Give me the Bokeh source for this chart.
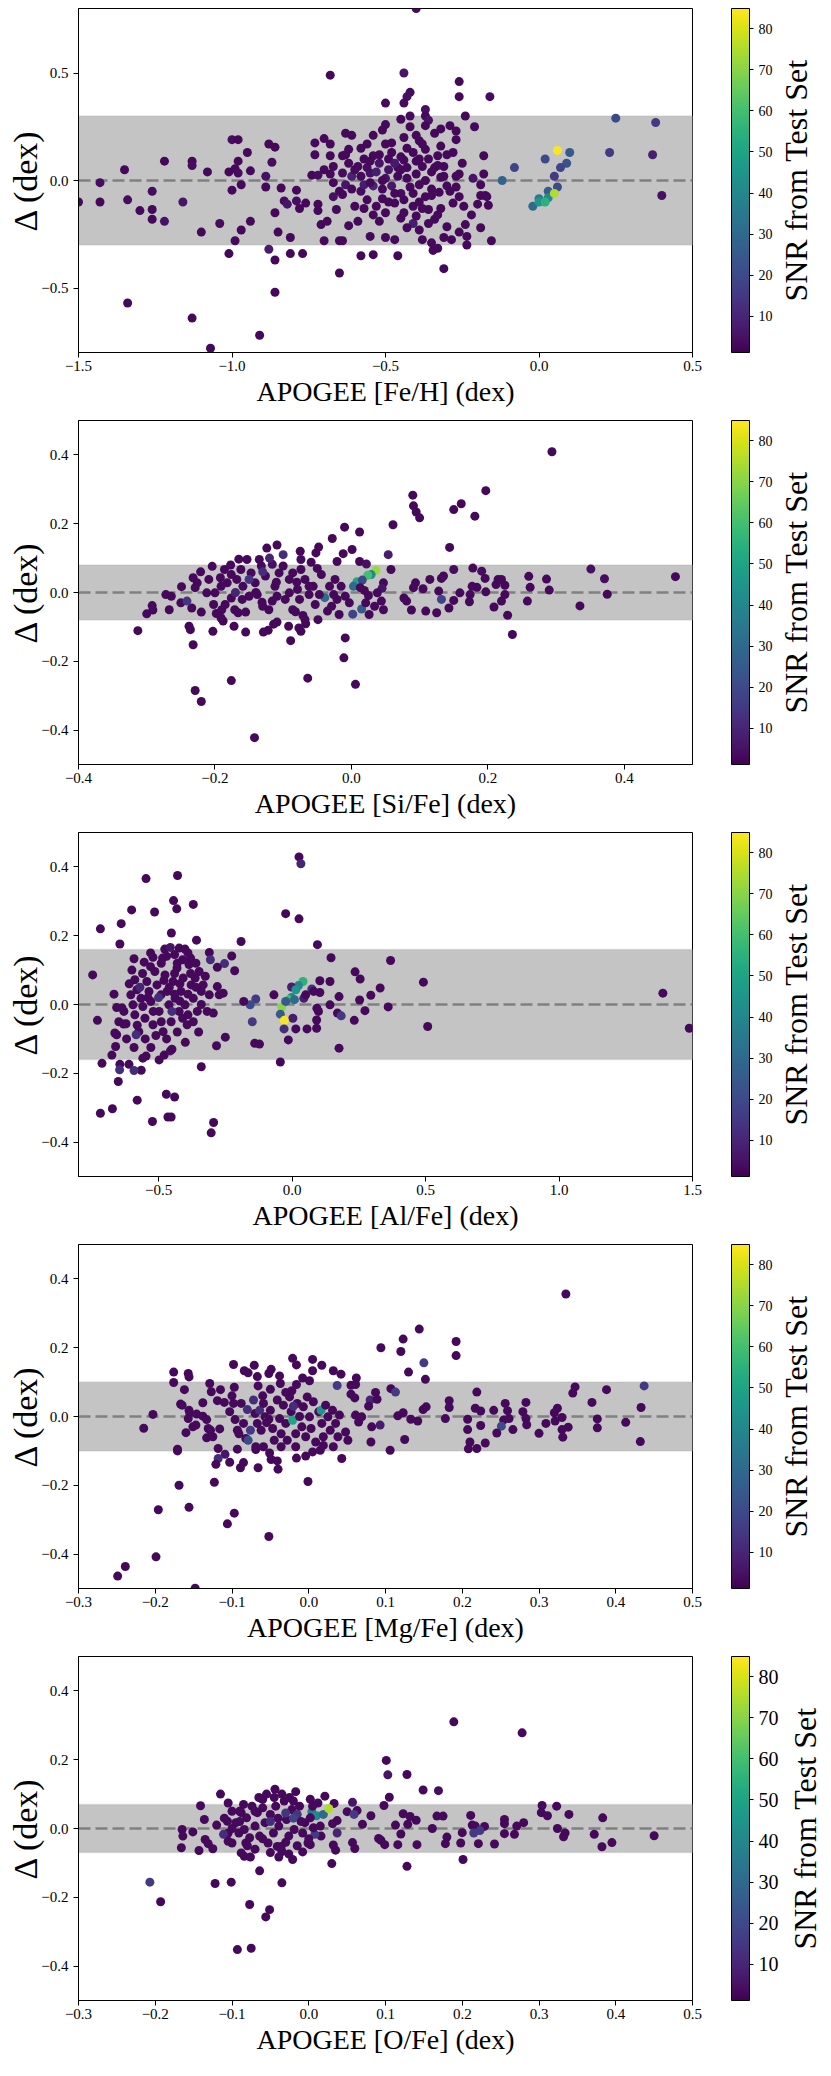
from bokeh.plotting import figure
from bokeh.models import (ColumnDataSource, LinearColorMapper, ColorBar, FixedTicker,
                          BoxAnnotation, Span, Title, CustomJSTickFormatter, Range1d)
from bokeh.palettes import Viridis256
from bokeh.layouts import column, row
from bokeh.embed import file_html
from bokeh.resources import INLINE

SERIF = "Liberation Serif"

# ---------------- Panel 1: [Fe/H] ----------------
FEH_X = [
    -0.40, -0.68, -0.44, -0.26, -0.42, -0.43, -0.50, -0.44, -0.26, -0.16,
    -0.37, -0.37, -0.42, -0.24, -0.36, -0.21, 0.25, 0.38, 0.10, 0.23,
    0.37, 0.02, 0.09, 0.07, -0.08, -0.12, 0.05, 0.06, 0.03, 0.03,
    0.00, -0.02, 0.00, 0.02, 0.05, 0.06, 0.40, -1.50, -1.43, -1.43,
    -1.35, -1.34, -1.34, -1.30, -1.26, -1.26, -1.26, -1.22, -1.22, -1.16,
    -1.13, -1.13, -1.13, -1.10, -1.08, -1.07, -1.04, -1.01, -1.01, -1.00,
    -1.00, -0.98, -0.99, -0.99, -0.98, -0.98, -0.97, -0.97, -0.95, -0.94,
    -0.94, -0.91, -0.89, -0.89, -0.88, -0.87, -0.88, -0.86, -0.86, -0.86,
    -0.86, -0.85, -0.84, -0.83, -0.82, -0.81, -0.81, -0.79, -0.79, -0.78,
    -0.77, -0.76, -0.74, -0.73, -0.73, -0.72, -0.72, -0.72, -0.71, -0.70,
    -0.70, -0.70, -0.69, -0.68, -0.68, -0.67, -0.67, -0.67, -0.66, -0.65,
    -0.65, -0.64, -0.64, -0.64, -0.64, -0.63, -0.63, -0.62, -0.62, -0.61,
    -0.61, -0.60, -0.59, -0.59, -0.58, -0.58, -0.57, -0.57, -0.56, -0.56,
    -0.55, -0.55, -0.54, -0.54, -0.54, -0.54, -0.52, -0.52, -0.51, -0.51,
    -0.50, -0.50, -0.50, -0.50, -0.49, -0.48, -0.48, -0.47, -0.47, -0.46,
    -0.46, -0.45, -0.45, -0.45, -0.44, -0.44, -0.43, -0.43, -0.42, -0.41,
    -0.41, -0.40, -0.40, -0.39, -0.39, -0.39, -0.38, -0.38, -0.37, -0.37,
    -0.37, -0.36, -0.35, -0.35, -0.35, -0.345, -0.34, -0.34, -0.33, -0.33,
    -0.325, -0.32, -0.32, -0.32, -0.31, -0.31, -0.31, -0.30, -0.30, -0.29,
    -0.285, -0.28, -0.28, -0.27, -0.27, -0.27, -0.26, -0.26, -0.26, -0.25,
    -0.245, -0.24, -0.235, -0.235, -0.22, -0.215, -0.20, -0.19, -0.19, -0.19,
    -0.18, -0.18, -0.175, -0.17, -0.165, -0.155, -0.60, -0.58, -0.56, -0.55,
    -0.53, -0.52, -0.51, -0.49, -0.48, -0.47, -0.46, -0.45, -0.44, -0.43,
    -0.42, -0.41, -0.40, -0.39, -0.38, -0.37, -0.36, -0.35, -0.34, -0.33,
    -0.31, -0.30, -0.29, -0.57, -0.62, -0.65, -0.53, -0.50, -0.44, -0.40,
    -0.36, -0.58, -0.54, -0.47, -0.41, -0.32, -0.68, -0.61, -0.55, -0.49,
    -0.45, -0.39, -0.33, -0.27, -0.63, -0.51, -0.43, -0.38]
FEH_D = [
    0.80, 0.49, 0.50, 0.46, 0.41, 0.39, 0.36, 0.36, 0.39, 0.39,
    0.33, 0.30, 0.30, 0.30, 0.28, 0.25, 0.29, 0.27, 0.13, 0.13,
    0.12, 0.10, 0.08, 0.06, 0.06, 0.00, 0.02, -0.03, -0.05, -0.08,
    -0.085, -0.12, -0.10, -0.10, -0.06, 0.14, -0.07, -0.10, -0.01, -0.10,
    0.05, -0.09, -0.57, -0.14, -0.05, -0.135, -0.18, 0.09, -0.19, -0.10,
    -0.64, 0.09, 0.07, -0.24, 0.04, -0.78, -0.20, -0.34, 0.04, -0.045,
    0.19, 0.19, -0.28, 0.055, 0.035, 0.09, -0.02, -0.23, 0.13, 0.045,
    -0.19, -0.72, 0.02, -0.03, 0.17, 0.085, -0.32, -0.37, -0.52, 0.155,
    -0.15, -0.24, -0.035, -0.095, -0.11, -0.265, -0.34, -0.045, -0.095, -0.13,
    -0.34, -0.105, 0.025, 0.12, 0.175, -0.11, 0.025, -0.14, -0.205, -0.28,
    0.195, 0.05, -0.19, 0.17, 0.115, -0.075, -0.01, 0.065, -0.135, -0.43,
    -0.28, 0.035, 0.115, -0.065, -0.28, 0.22, -0.02, -0.21, 0.145, 0.21,
    0.02, -0.12, -0.19, 0.065, -0.35, -0.05, 0.10, -0.02, 0.17, -0.09,
    -0.26, 0.035, 0.115, -0.16, -0.345, -0.025, -0.19, 0.08, 0.235, -0.085,
    -0.265, 0.01, 0.26, -0.15, 0.10, 0.175, -0.025, -0.275, -0.105, 0.06,
    -0.35, 0.285, -0.175, -0.06, 0.20, 0.095, 0.01, 0.15, 0.25, -0.12,
    -0.20, 0.09, -0.165, -0.02, -0.23, 0.185, -0.275, 0.065, 0.255, -0.075,
    0.145, -0.135, 0.04, -0.29, -0.04, -0.325, 0.22, -0.18, -0.315, 0.115,
    -0.055, 0.015, 0.24, -0.13, -0.265, -0.41, 0.065, -0.215, -0.025, 0.255,
    -0.275, 0.13, -0.105, 0.02, 0.19, 0.23, -0.24, -0.075, 0.03, 0.08,
    -0.12, -0.205, -0.30, -0.26, -0.16, 0.01, -0.11, -0.22, -0.02, -0.07,
    0.115, 0.03, -0.07, -0.075, -0.115, -0.28, 0.05, 0.02, 0.06, -0.01,
    0.04, 0.12, -0.04, 0.05, 0.13, -0.06, 0.02, 0.11, -0.09, 0.06,
    -0.03, 0.13, 0.03, -0.10, 0.17, 0.00, 0.10, -0.07, 0.06, -0.16,
    0.02, 0.12, -0.05, -0.13, 0.08, -0.05, -0.12, 0.17, -0.15, 0.21,
    -0.20, 0.15, 0.21, 0.08, -0.06, 0.16, 0.03, -0.04, 0.09, -0.10,
    0.05, 0.10, 0.07, -0.03, 0.12, 0.00, -0.22, -0.13]
FEH_SNR = [
    4, 3, 6, 3, 4, 5, 3, 4, 3, 4,
    5, 3, 4, 3, 6, 3, 20, 15, 25, 15,
    8, 20, 22, 18, 18, 28, 15, 20, 25, 40,
    35, 30, 45, 55, 75, 84, 5, 3, 4, 3,
    3, 4, 3, 3, 4, 3, 3, 3, 5, 6,
    3, 3, 4, 3, 3, 3, 4, 3, 3, 3,
    4, 3, 3, 3, 4, 3, 3, 3, 3, 3,
    3, 3, 5, 3, 3, 4, 8, 3, 3, 3,
    3, 3, 3, 4, 6, 3, 3, 3, 4, 3,
    3, 3, 3, 3, 3, 3, 4, 3, 3, 3,
    3, 3, 3, 3, 3, 5, 3, 3, 3, 3,
    3, 4, 3, 3, 3, 3, 6, 3, 3, 3,
    9, 3, 3, 3, 3, 4, 3, 8, 3, 3,
    3, 5, 3, 3, 3, 10, 3, 6, 3, 3,
    3, 5, 3, 3, 3, 3, 7, 3, 3, 3,
    3, 3, 3, 4, 3, 3, 3, 3, 3, 3,
    8, 3, 3, 3, 3, 3, 3, 3, 3, 3,
    3, 3, 3, 3, 3, 3, 3, 3, 3, 3,
    3, 3, 3, 3, 3, 3, 3, 3, 3, 3,
    3, 3, 3, 3, 3, 3, 3, 3, 3, 3,
    3, 3, 3, 3, 3, 6, 3, 3, 3, 3,
    3, 3, 3, 3, 3, 3, 3, 3, 4, 3,
    8, 3, 3, 6, 3, 3, 3, 3, 3, 3,
    3, 3, 3, 3, 3, 3, 3, 3, 3, 3,
    3, 3, 3, 3, 3, 3, 3, 3, 3, 3,
    3, 3, 3, 7, 3, 3, 3, 3, 3, 3,
    3, 3, 3, 3, 3, 3, 3, 3]

# ---------------- Panel 2: [Si/Fe] ----------------
SI_X = [
    0.294, 0.197, 0.090, 0.161, 0.091, 0.095, 0.150, 0.181, 0.100, 0.061,
    -0.010, 0.012, -0.028, -0.109, -0.124, -0.048, -0.075, 0.144, 0.001, -0.012,
    0.054, -0.165, -0.052, -0.074, -0.059, -0.021, 0.012, 0.022, -0.204, 0.058,
    0.150, 0.178, 0.191, 0.351, 0.260, 0.286, 0.371, 0.475, 0.262, 0.290,
    0.375, 0.335, 0.258, 0.229, 0.236, 0.209, 0.220, 0.225, 0.225, 0.212,
    0.215, 0.220, 0.196, 0.197, 0.184, 0.177, 0.174, 0.173, 0.159, 0.150,
    0.143, 0.132, 0.125, 0.128, 0.132, 0.135, 0.115, 0.109, 0.105, 0.094,
    0.091, 0.088, 0.081, 0.077, 0.047, 0.045, 0.044, 0.047, 0.026, 0.034,
    0.025, 0.036, 0.029, 0.024, 0.008, 0.003, 0.016, 0.016, 0.015, 0.002,
    -0.039, -0.009, -0.011, 0.006, -0.064, -0.089, -0.074, -0.077, -0.067, -0.049,
    -0.092, -0.109, -0.114, -0.122, -0.129, -0.155, -0.172, -0.188, -0.203, -0.238,
    -0.236, -0.232, -0.176, -0.229, -0.220, -0.142, -0.313, -0.300, -0.291, -0.292,
    -0.267, -0.272, -0.264, -0.250, -0.249, -0.234, -0.232, -0.221, -0.220, -0.202,
    -0.200, -0.198, -0.191, -0.186, -0.177, -0.171, -0.166, -0.155, -0.153, -0.135,
    -0.131, -0.121, -0.116, -0.086, -0.082, -0.071, -0.068, -0.076, -0.053, -0.035,
    -0.029, -0.021, -0.018, -0.015, -0.024, -0.032, -0.044, -0.056, -0.062, -0.068,
    -0.074, -0.086, -0.091, -0.100, -0.106, -0.112, -0.116, -0.126, -0.132, -0.141,
    -0.147, -0.150, -0.159, -0.162, -0.168, -0.176, -0.182, -0.192, -0.191, -0.209,
    -0.212, -0.226, -0.229, -0.241, -0.150, -0.160, -0.176, -0.185, -0.138, -0.109,
    -0.097, -0.091, -0.079, -0.062, -0.047, -0.026, -0.009, -0.003, 0.021, 0.038,
    -0.12, -0.10, -0.13, -0.11, -0.14, -0.17, -0.19, -0.13, -0.08, -0.05,
    0.019, 0.013]
SI_D = [
    0.409, 0.296, 0.283, 0.258, 0.252, 0.234, 0.241, 0.222, 0.217, 0.197,
    0.190, 0.176, 0.157, 0.138, 0.129, 0.132, 0.120, 0.131, 0.125, 0.113,
    0.110, 0.097, 0.115, 0.096, 0.088, 0.090, 0.090, 0.083, 0.076, 0.067,
    0.067, 0.071, 0.062, 0.068, 0.047, 0.039, 0.040, 0.046, 0.015, 0.007,
    -0.005, -0.039, -0.025, -0.066, -0.122, -0.042, -0.025, -0.006, 0.021, 0.023,
    0.038, 0.038, 0.041, 0.002, 0.015, 0.018, -0.006, -0.027, -0.001, -0.023,
    -0.045, -0.020, -0.059, 0.004, 0.041, 0.048, 0.038, -0.054, 0.011, 0.028,
    0.014, -0.051, -0.025, -0.016, 0.028, 0.012, -0.025, -0.050, -0.064, -0.040,
    -0.009, 0.064, 0.052, 0.050, 0.031, 0.018, 0.011, 0.036, -0.048, -0.063,
    -0.015, -0.132, -0.190, -0.267, -0.249, -0.140, -0.113, -0.103, -0.091, -0.079,
    -0.098, -0.086, -0.092, -0.110, -0.115, -0.115, -0.098, -0.083, -0.113, -0.098,
    -0.108, -0.152, -0.256, -0.285, -0.317, -0.422, -0.111, -0.062, -0.051, -0.038,
    -0.050, -0.006, -0.011, -0.030, 0.017, -0.045, 0.043, 0.060, -0.057, -0.035,
    -0.001, -0.061, -0.074, 0.067, 0.080, -0.050, -0.059, -0.057, 0.096, 0.096,
    -0.028, -0.050, -0.025, -0.050, -0.056, -0.067, -0.079, -0.020, -0.035, -0.054,
    -0.040, -0.020, -0.064, 0.018, 0.038, 0.018, 0.052, 0.018, 0.018, 0.038,
    0.067, 0.057, 0.038, 0.077, 0.057, 0.018, 0.082, 0.048, 0.077, 0.028,
    0.057, 0.038, 0.018, 0.067, 0.038, 0.052, 0.028, 0.043, 0.018, 0.038,
    -0.001, 0.028, 0.014, -0.025, -0.011, -0.020, -0.016, -0.035, -0.006, -0.011,
    -0.020, -0.001, 0.009, -0.006, -0.006, -0.006, -0.011, -0.030, -0.030, -0.001,
    0.10, 0.11, 0.06, 0.03, 0.00, 0.00, -0.05, -0.04, 0.03, 0.07,
    0.006, 0.014]
SI_SNR = [
    3, 3, 3, 3, 3, 3, 3, 3, 3, 3,
    3, 3, 3, 3, 3, 3, 3, 3, 3, 3,
    8, 3, 3, 4, 3, 3, 3, 5, 3, 3,
    4, 3, 4, 5, 3, 3, 4, 3, 3, 3,
    3, 3, 3, 3, 3, 3, 3, 3, 3, 3,
    3, 3, 3, 3, 3, 3, 3, 3, 3, 3,
    3, 18, 3, 3, 3, 3, 3, 3, 3, 3,
    3, 3, 3, 3, 3, 6, 3, 3, 3, 3,
    3, 72, 40, 60, 50, 30, 84, 20, 25, 18,
    30, 3, 3, 3, 3, 3, 3, 3, 3, 3,
    3, 3, 3, 3, 3, 3, 3, 3, 3, 3,
    3, 3, 3, 3, 3, 3, 3, 3, 3, 3,
    3, 3, 3, 3, 3, 3, 3, 3, 3, 3,
    3, 3, 3, 3, 3, 3, 3, 3, 3, 3,
    3, 3, 3, 3, 3, 3, 3, 3, 3, 3,
    3, 3, 3, 3, 3, 3, 3, 3, 3, 3,
    3, 3, 3, 3, 3, 3, 5, 3, 3, 3,
    3, 14, 3, 3, 3, 3, 3, 3, 3, 3,
    3, 3, 3, 14, 3, 3, 3, 3, 3, 3,
    3, 3, 3, 3, 3, 3, 3, 3, 3, 3,
    10, 12, 12, 3, 3, 10, 3, 3, 3, 3,
    3, 3]

# ---------------- Panel 3: [Al/Fe] ----------------
AL_X = [
    0.026, 0.033, -0.547, -0.429, -0.444, -0.370, -0.432, -0.601, -0.515, -0.024,
    0.026, -0.640, -0.718, -0.452, -0.358, -0.191, -0.645, 0.095, -0.477, -0.456,
    -0.423, -0.401, -0.310, -0.226, 0.146, 0.369, -0.592, -0.521, -0.554, -0.485,
    -0.440, -0.380, -0.306, -0.253, -0.280, -0.215, -0.747, 0.236, 0.255, 0.104,
    0.142, 0.492, 0.041, 0.024, -0.002, 0.014, 0.074, 0.104, 0.330, 0.295,
    0.176, 0.253, 0.273, 0.360, 1.389, -0.068, -0.136, -0.157, -0.181, -0.002,
    -0.012, 0.009, -0.039, -0.024, 0.044, 0.051, 0.081, 0.093, 0.099, 0.142,
    0.170, 0.184, 0.092, 0.003, -0.044, -0.029, -0.149, -0.030, 0.014, 0.056,
    0.092, 0.233, 0.508, 1.488, -0.014, -0.140, -0.122, 0.176, -0.044, -0.250,
    -0.283, -0.340, -0.456, -0.479, -0.498, -0.529, -0.547, -0.559, -0.592, -0.611,
    -0.565, -0.592, -0.645, -0.646, -0.712, -0.675, -0.661, -0.651, -0.471, -0.440,
    -0.580, -0.673, -0.718, -0.523, -0.465, -0.453, -0.294, -0.303, -0.729, -0.667,
    -0.657, -0.649, -0.637, -0.664, -0.657, -0.631, -0.622, -0.604, -0.596, -0.589,
    -0.581, -0.589, -0.574, -0.584, -0.566, -0.559, -0.551, -0.544, -0.536, -0.529,
    -0.521, -0.514, -0.506, -0.498, -0.491, -0.483, -0.476, -0.468, -0.461, -0.453,
    -0.446, -0.438, -0.431, -0.423, -0.416, -0.408, -0.401, -0.393, -0.386, -0.378,
    -0.370, -0.363, -0.355, -0.348, -0.340, -0.333, -0.325, -0.310, -0.318, -0.295,
    -0.280, -0.258, -0.273, -0.60, -0.57, -0.55, -0.53, -0.51, -0.50, -0.49,
    -0.47, -0.46, -0.45, -0.44, -0.43, -0.42, -0.41, -0.40, -0.39, -0.38,
    -0.37, -0.36, -0.35, -0.52, -0.48, -0.45, -0.42, -0.39, -0.56, -0.62,
    -0.58, -0.54, -0.49, -0.43, -0.47, -0.41, -0.53, -0.44, -0.36, -0.61,
    -0.63, -0.39, -0.34]
AL_D = [
    0.429, 0.409, 0.366, 0.375, 0.302, 0.291, 0.278, 0.275, 0.269, 0.264,
    0.249, 0.235, 0.220, 0.208, 0.187, 0.183, 0.176, 0.174, 0.161, 0.166,
    0.164, 0.161, 0.151, 0.141, 0.136, 0.128, 0.133, 0.137, 0.123, 0.135,
    0.145, 0.135, 0.130, 0.119, 0.108, 0.098, 0.086, 0.095, 0.074, 0.069,
    0.067, 0.065, 0.067, 0.055, 0.051, 0.043, 0.045, 0.035, 0.048, 0.027,
    0.023, 0.013, -0.018, -0.007, 0.033, 0.028, 0.016, -0.001, 0.009, 0.020,
    0.014, 0.014, -0.008, 0.009, 0.018, 0.028, 0.038, -0.011, -0.020, -0.001,
    -0.025, -0.033, -0.045, -0.040, -0.028, -0.046, -0.050, -0.071, -0.071, -0.071,
    -0.069, -0.046, -0.064, -0.069, -0.103, -0.113, -0.115, -0.127, -0.167, -0.095,
    -0.120, -0.181, -0.135, -0.147, -0.161, -0.125, -0.150, -0.156, -0.125, -0.174,
    -0.191, -0.192, -0.174, -0.190, -0.171, -0.147, -0.122, -0.224, -0.261, -0.269,
    -0.278, -0.303, -0.316, -0.340, -0.327, -0.327, -0.343, -0.373, -0.046, 0.030,
    -0.009, -0.050, -0.010, -0.083, -0.088, -0.057, -0.056, 0.028, -0.001, 0.072,
    0.043, -0.030, -0.079, -0.088, 0.018, -0.006, -0.040, 0.067, 0.038, 0.009,
    -0.059, 0.096, 0.057, -0.020, 0.028, -0.079, 0.086, 0.038, -0.001, -0.050,
    0.067, 0.018, 0.106, -0.020, 0.038, 0.077, -0.001, -0.059, 0.116, 0.057,
    0.018, 0.077, -0.020, 0.096, 0.038, 0.057, 0.082, 0.028, -0.020, -0.025,
    0.052, 0.033, 0.028, 0.10, 0.05, -0.10, 0.11, -0.09, 0.02, 0.12,
    -0.10, 0.05, -0.02, 0.09, -0.08, 0.01, 0.13, -0.11, 0.03, 0.09,
    -0.05, 0.12, -0.08, -0.02, 0.07, -0.13, 0.06, -0.03, 0.09, -0.10,
    -0.06, 0.02, -0.05, 0.12, 0.14, -0.04, 0.15, 0.03, 0.05, 0.06,
    -0.02, 0.15, 0.00]
AL_SNR = [
    3, 10, 3, 3, 3, 3, 3, 3, 3, 3,
    3, 3, 3, 3, 3, 3, 3, 3, 3, 6,
    3, 3, 3, 3, 3, 3, 3, 3, 3, 3,
    3, 3, 12, 12, 3, 3, 3, 3, 3, 3,
    3, 3, 55, 40, 8, 45, 12, 3, 3, 3,
    3, 3, 3, 3, 3, 3, 15, 20, 3, 40,
    60, 30, 70, 25, 8, 3, 3, 3, 3, 3,
    3, 15, 3, 8, 25, 84, 15, 12, 3, 3,
    3, 3, 3, 3, 3, 3, 3, 3, 3, 3,
    3, 3, 6, 3, 3, 3, 3, 3, 3, 3,
    3, 12, 3, 12, 3, 3, 3, 3, 3, 3,
    3, 3, 3, 3, 3, 3, 3, 3, 3, 3,
    3, 3, 3, 3, 3, 3, 3, 3, 3, 3,
    3, 3, 3, 12, 3, 3, 3, 3, 3, 3,
    3, 3, 3, 3, 3, 3, 3, 3, 3, 3,
    3, 3, 3, 3, 3, 3, 3, 3, 3, 3,
    3, 3, 3, 3, 3, 3, 3, 3, 3, 3,
    3, 3, 3, 3, 10, 3, 3, 3, 12, 3,
    3, 3, 12, 3, 3, 3, 3, 3, 3, 3,
    3, 3, 3, 3, 3, 3, 3, 3, 3, 3,
    3, 3, 3, 3, 3, 3, 3, 3, 3, 3,
    3, 3, 3]

# ---------------- Panel 4: [Mg/Fe] ----------------
MG_X = [
    0.335, 0.144, 0.123, 0.192, 0.094, 0.120, 0.192, 0.150, 0.130, 0.152,
    -0.021, 0.005, -0.098, -0.071, -0.016, 0.017, -0.049, -0.052, -0.084, -0.079,
    0.005, 0.032, 0.042, -0.067, -0.038, -0.176, -0.157, -0.156, -0.176, 0.062,
    -0.008, 0.001, -0.129, -0.162, -0.127, -0.115, -0.097, -0.066, -0.050, -0.037,
    -0.022, -0.016, 0.037, 0.055, 0.061, 0.087, 0.107, 0.113, 0.055, 0.060,
    0.080, 0.089, 0.078, 0.219, 0.347, 0.344, 0.437, 0.388, 0.369, 0.283,
    0.256, 0.183, 0.183, 0.217, 0.224, 0.241, 0.259, 0.279, 0.320, 0.324,
    0.330, 0.433, 0.153, 0.149, 0.123, 0.116, 0.133, 0.142, 0.178, 0.207,
    0.254, 0.261, 0.283, 0.284, 0.309, 0.321, 0.376, 0.376, 0.413, 0.338,
    0.330, 0.331, 0.300, 0.266, 0.251, 0.245, 0.224, 0.207, 0.210, 0.230,
    0.208, 0.219, 0.432, 0.082, 0.093, 0.081, 0.106, 0.125, 0.043, -0.001,
    -0.016, -0.004, 0.005, 0.015, -0.052, -0.051, -0.049, -0.040, -0.041, -0.066,
    -0.069, -0.089, -0.085, -0.103, -0.109, -0.118, -0.121, -0.118, -0.093, -0.123,
    -0.097, -0.106, -0.169, -0.156, -0.196, -0.199, -0.239, -0.249, -0.148, -0.171,
    -0.171, -0.215, -0.203, -0.160, -0.167, -0.165, -0.156, -0.155, -0.157, -0.151,
    -0.147, -0.146, -0.138, -0.138, -0.133, -0.131, -0.133, -0.125, -0.128, -0.119,
    -0.116, -0.110, -0.103, -0.098, -0.096, -0.093, -0.091, -0.088, -0.085, -0.082,
    -0.079, -0.076, -0.072, -0.070, -0.067, -0.064, -0.062, -0.059, -0.057, -0.053,
    -0.050, -0.047, -0.045, -0.041, -0.038, -0.036, -0.033, -0.030, -0.028, -0.025,
    -0.023, -0.021, -0.017, -0.015, -0.012, -0.009, -0.007, -0.004, -0.002, 0.001,
    0.003, 0.006, 0.009, 0.013, 0.016, 0.017, 0.019, 0.022, 0.025, 0.028,
    0.031, 0.035, 0.038, 0.040, 0.048, 0.051, 0.061, 0.065, 0.069, 0.032,
    0.019, -0.017, -0.036, -0.059, -0.069, -0.08, -0.06, -0.03, -0.10, -0.02,
    -0.052, -0.055]
MG_D = [
    0.356, 0.254, 0.225, 0.218, 0.200, 0.189, 0.177, 0.156, 0.129, 0.108,
    0.169, 0.166, 0.151, 0.149, 0.150, 0.149, 0.137, 0.125, 0.133, 0.127,
    0.133, 0.133, 0.123, 0.116, 0.118, 0.129, 0.125, 0.115, 0.099, 0.112,
    0.112, 0.104, 0.096, 0.078, 0.072, 0.078, 0.085, 0.089, 0.079, 0.096,
    0.075, 0.093, 0.090, 0.091, 0.093, 0.070, 0.081, 0.071, 0.065, 0.054,
    0.048, 0.050, 0.030, 0.071, 0.086, 0.068, 0.089, 0.078, 0.041, 0.041,
    0.038, 0.046, 0.026, 0.024, 0.016, 0.018, 0.017, 0.014, 0.011, 0.024,
    -0.003, 0.026, 0.028, 0.020, 0.011, 0.002, -0.008, -0.013, -0.006, -0.008,
    -0.010, -0.006, -0.006, -0.024, -0.020, -0.013, -0.007, -0.033, -0.017, -0.031,
    -0.038, -0.060, -0.049, -0.038, -0.028, -0.048, -0.026, -0.038, -0.074, -0.077,
    -0.094, -0.093, -0.073, -0.030, -0.025, -0.074, -0.098, -0.067, -0.122, -0.189,
    -0.121, -0.115, -0.103, -0.098, -0.349, -0.106, -0.125, -0.153, -0.129, -0.149,
    -0.096, -0.149, -0.134, -0.133, -0.110, -0.122, -0.139, -0.093, -0.095, -0.191,
    -0.281, -0.312, -0.200, -0.264, -0.271, -0.408, -0.436, -0.464, -0.499, -0.095,
    -0.100, -0.034, 0.006, -0.047, 0.036, 0.033, 0.018, 0.010, -0.006, -0.030,
    -0.025, 0.007, 0.040, 0.001, -0.009, -0.035, -0.062, -0.059, -0.040, 0.046,
    -0.036, 0.041, 0.014, 0.038, -0.009, -0.040, -0.050, 0.038, -0.020, -0.064,
    -0.069, -0.040, 0.048, 0.009, -0.020, 0.018, -0.040, 0.038, -0.001, -0.013,
    0.018, -0.035, -0.069, 0.048, -0.006, -0.050, 0.033, -0.020, -0.069, 0.057,
    0.014, -0.011, -0.050, 0.038, 0.000, -0.030, 0.028, -0.059, 0.057, -0.001,
    -0.035, 0.043, -0.074, 0.014, 0.018, -0.020, -0.059, 0.033, -0.001, -0.040,
    0.018, -0.020, -0.059, 0.004, -0.045, -0.069, 0.004, -0.016, -0.001, -0.088,
    -0.084, -0.088, -0.088, -0.088, -0.088, 0.02, 0.06, 0.07, 0.06, 0.03,
    -0.008, -0.018]
MG_SNR = [
    3, 3, 3, 3, 3, 3, 3, 15, 3, 3,
    3, 3, 3, 3, 3, 3, 3, 3, 3, 3,
    3, 3, 3, 3, 3, 3, 3, 3, 3, 3,
    3, 3, 3, 3, 3, 3, 3, 3, 3, 3,
    3, 3, 15, 3, 3, 3, 3, 15, 3, 3,
    10, 3, 3, 3, 3, 3, 15, 3, 3, 3,
    3, 3, 3, 3, 3, 3, 3, 3, 3, 3,
    3, 3, 3, 3, 3, 3, 3, 3, 3, 3,
    3, 3, 3, 3, 3, 3, 3, 3, 3, 3,
    3, 3, 3, 3, 20, 3, 3, 3, 3, 3,
    3, 3, 3, 3, 8, 3, 3, 3, 3, 3,
    3, 3, 3, 3, 3, 3, 3, 3, 3, 3,
    3, 3, 3, 3, 6, 12, 3, 3, 3, 3,
    3, 3, 3, 3, 3, 3, 3, 3, 3, 3,
    3, 3, 3, 3, 3, 3, 3, 3, 3, 3,
    3, 3, 3, 3, 3, 3, 3, 3, 3, 3,
    3, 3, 3, 3, 3, 3, 3, 3, 3, 3,
    20, 15, 12, 3, 3, 12, 3, 3, 3, 84,
    3, 3, 3, 3, 3, 3, 3, 3, 3, 3,
    3, 50, 3, 3, 3, 3, 3, 3, 3, 3,
    3, 3, 3, 3, 45, 3, 3, 3, 3, 3,
    3, 3, 3, 3, 3, 3, 3, 3, 3, 3,
    3, 3, 3, 3, 3, 12, 3, 3, 3, 12,
    3, 3]

# ---------------- Panel 5: [O/Fe] ----------------
O_X = [
    0.189, 0.278, 0.101, 0.103, 0.128, 0.149, 0.169, 0.105, -0.115, -0.044,
    -0.017, -0.062, 0.021, -0.105, -0.141, 0.002, 0.012, 0.033, 0.057, 0.098,
    0.050, 0.063, 0.081, 0.070, 0.059, 0.123, 0.132, 0.140, 0.113, 0.129,
    0.167, 0.175, 0.161, 0.211, 0.213, 0.217, 0.229, 0.200, 0.215, 0.223,
    0.255, 0.255, 0.271, 0.280, 0.304, 0.323, 0.303, 0.311, 0.339, 0.324,
    0.334, 0.332, 0.383, 0.372, 0.450, 0.395, 0.382, 0.255, 0.268, 0.242,
    0.221, 0.198, 0.180, 0.178, 0.201, 0.141, 0.120, 0.116, 0.128, 0.099,
    0.094, 0.091, 0.030, 0.035, 0.057, 0.060, 0.032, 0.037, 0.031, 0.037,
    0.004, 0.010, 0.019, 0.015, 0.016, 0.008, 0.002, -0.008, -0.021, -0.026,
    -0.035, -0.039, -0.041, -0.064, -0.084, -0.076, -0.088, -0.035, -0.077, -0.051,
    -0.056, -0.075, -0.093, -0.101, -0.122, -0.207, -0.193, -0.165, -0.164, -0.166,
    -0.151, -0.143, -0.135, -0.131, -0.125, -0.136, -0.106, -0.105, -0.111, -0.105,
    -0.100, -0.095, -0.091, -0.088, -0.084, -0.082, -0.081, -0.077, -0.074, -0.070,
    -0.067, -0.064, -0.060, -0.057, -0.053, -0.050, -0.046, -0.043, -0.039, -0.036,
    -0.032, -0.029, -0.026, -0.022, -0.019, -0.015, -0.012, -0.008, -0.005, -0.001,
    0.002, 0.006, -0.03, -0.02, -0.05, -0.06, -0.07, -0.09, -0.10, -0.045,
    -0.09, -0.08, -0.07, -0.06, -0.05, -0.04, -0.03, -0.02, -0.01, 0.00,
    -0.11, -0.12, -0.10, -0.085, -0.065, -0.055, -0.035, -0.025, -0.015, 0.005,
    0.026]
O_D = [
    0.310, 0.278, 0.198, 0.156, 0.157, 0.112, 0.110, 0.091, 0.100, 0.114,
    0.107, 0.087, 0.094, 0.074, 0.066, 0.085, 0.074, 0.073, 0.076, 0.067,
    0.049, 0.052, 0.037, 0.012, 0.041, 0.043, 0.035, 0.024, 0.010, 0.012,
    0.036, 0.036, 0.000, 0.038, 0.010, 0.007, 0.006, -0.012, -0.013, -0.006,
    0.026, 0.014, 0.007, 0.017, 0.067, 0.065, 0.046, 0.037, 0.041, 0.000,
    -0.013, -0.024, 0.031, -0.017, -0.021, -0.041, -0.053, -0.015, -0.017, -0.045,
    -0.044, -0.042, -0.025, -0.044, -0.090, -0.047, -0.016, -0.047, -0.110, -0.047,
    -0.034, -0.029, -0.102, -0.063, -0.041, -0.058, -0.048, -0.013, 0.014, 0.023,
    0.049, 0.037, 0.041, 0.007, -0.022, -0.017, -0.047, -0.068, -0.090, -0.074,
    -0.067, -0.083, -0.052, -0.123, -0.081, -0.083, -0.071, -0.158, -0.221, -0.236,
    -0.257, -0.348, -0.352, -0.156, -0.160, -0.156, -0.213, -0.003, -0.022, -0.056,
    -0.010, -0.064, -0.032, -0.044, -0.059, 0.026, 0.021, -0.013, -0.017, -0.037,
    -0.042, 0.017, -0.013, 0.046, -0.003, -0.042, 0.031, -0.027, 0.065, 0.007,
    0.046, -0.022, 0.085, 0.017, -0.042, 0.041, -0.013, 0.065, 0.007, -0.052,
    0.080, 0.026, -0.022, 0.055, -0.003, 0.041, 0.065, -0.013, 0.017, -0.042,
    0.031, 0.002, 0.045, 0.03, 0.02, 0.06, 0.05, 0.02, 0.00, 0.09,
    0.05, -0.05, -0.06, -0.03, -0.07, 0.03, -0.04, 0.08, 0.02, -0.03,
    0.03, 0.01, 0.05, 0.07, 0.09, 0.10, 0.10, 0.09, -0.05, 0.065,
    0.058]
O_SNR = [
    3, 3, 3, 6, 3, 3, 4, 3, 3, 3,
    3, 3, 3, 3, 3, 3, 3, 3, 6, 3,
    3, 3, 3, 3, 15, 3, 3, 3, 3, 3,
    3, 3, 3, 3, 3, 3, 3, 3, 15, 15,
    3, 3, 3, 3, 3, 3, 3, 3, 3, 3,
    3, 3, 3, 3, 3, 3, 3, 3, 3, 3,
    3, 3, 3, 3, 3, 3, 3, 3, 3, 3,
    3, 3, 3, 3, 3, 3, 3, 10, 3, 3,
    35, 40, 30, 3, 3, 15, 3, 3, 3, 3,
    3, 3, 3, 3, 3, 3, 3, 3, 3, 3,
    3, 3, 3, 3, 3, 15, 3, 3, 3, 3,
    3, 3, 3, 3, 3, 3, 3, 3, 12, 3,
    3, 3, 3, 3, 3, 3, 3, 3, 3, 3,
    3, 3, 3, 3, 3, 3, 3, 3, 3, 3,
    3, 3, 3, 3, 3, 14, 3, 3, 3, 3,
    3, 3, 14, 18, 12, 3, 3, 3, 3, 3,
    3, 3, 3, 3, 3, 3, 3, 3, 3, 3,
    3, 3, 3, 3, 3, 3, 3, 3, 3, 3,
    75]

# ---------------- axes settings ----------------
X_LABELS = ["APOGEE [Fe/H] (dex)", "APOGEE [Si/Fe] (dex)", "APOGEE [Al/Fe] (dex)",
            "APOGEE [Mg/Fe] (dex)", "APOGEE [O/Fe] (dex)"]
Y_LABEL = "\u0394 (dex)"
CB_TITLE = "SNR from Test Set"
X_RANGES = [(-1.5, 0.5), (-0.4, 0.5), (-0.8, 1.5), (-0.3, 0.5), (-0.3, 0.5)]
Y_RANGES = [(-0.8, 0.8), (-0.5, 0.5), (-0.5, 0.5), (-0.5, 0.5), (-0.5, 0.5)]
X_TICKS = [[-1.5, -1.0, -0.5, 0.0, 0.5],
           [-0.4, -0.2, 0.0, 0.2, 0.4],
           [-0.5, 0.0, 0.5, 1.0, 1.5],
           [-0.3, -0.2, -0.1, 0.0, 0.1, 0.2, 0.3, 0.4, 0.5],
           [-0.3, -0.2, -0.1, 0.0, 0.1, 0.2, 0.3, 0.4, 0.5]]
Y_TICKS = [[-0.5, 0.0, 0.5],
           [-0.4, -0.2, 0.0, 0.2, 0.4],
           [-0.4, -0.2, 0.0, 0.2, 0.4],
           [-0.4, -0.2, 0.0, 0.2, 0.4],
           [-0.4, -0.2, 0.0, 0.2, 0.4]]
BAND_HALF = [0.30, 0.08, 0.16, 0.10, 0.07]
CB_TICKS = [10, 20, 30, 40, 50, 60, 70, 80]
SNR_LOW, SNR_HIGH = 1.2, 84.9
CB_FONT = ["14px", "14px", "14px", "14px", "20px"]

PANELS = [(FEH_X, FEH_D, FEH_SNR), (SI_X, SI_D, SI_SNR), (AL_X, AL_D, AL_SNR),
          (MG_X, MG_D, MG_SNR), (O_X, O_D, O_SNR)]

fmt = CustomJSTickFormatter(code="return tick.toFixed(1).replace('-', '\u2212');")

rows = []
for i, (xs, ys, snr) in enumerate(PANELS):
    assert len(xs) == len(ys) == len(snr), (i, len(xs), len(ys), len(snr))
    right = 92 if i == 4 else 82
    p = figure(frame_width=614, frame_height=344,
               x_range=Range1d(*X_RANGES[i]), y_range=Range1d(*Y_RANGES[i]),
               output_backend="svg", toolbar_location=None,
               min_border_left=78, min_border_top=8, min_border_bottom=60,
               min_border_right=right, background_fill_color="white",
               border_fill_color="white")
    p.grid.visible = False
    p.outline_line_color = "black"
    p.outline_line_width = 1
    p.outline_line_alpha = 1

    band = BoxAnnotation(bottom=-BAND_HALF[i], top=BAND_HALF[i], fill_color="#c4c4c4",
                         fill_alpha=1.0, line_color="#b2b2b2", line_width=1.5,
                         level="underlay")
    p.add_layout(band)
    zero = Span(location=0, dimension="width", line_color="#808080", line_width=2.5,
                line_dash="12 5", level="underlay")
    p.add_layout(zero)

    mapper = LinearColorMapper(palette=Viridis256, low=SNR_LOW, high=SNR_HIGH)
    src = ColumnDataSource(dict(x=xs, y=ys, snr=snr))
    p.scatter("x", "y", source=src, size=9, line_color=None,
              fill_color={"field": "snr", "transform": mapper})

    for ax in (p.xaxis[0], p.yaxis[0]):
        ax.formatter = fmt
        ax.axis_line_color = "black"
        ax.major_tick_line_color = "black"
        ax.major_tick_out = 5
        ax.major_tick_in = 0
        ax.minor_tick_line_color = None
        ax.major_label_text_font = SERIF
        ax.major_label_text_font_size = "15px"
        ax.major_label_text_color = "black"
        ax.axis_label_text_font = SERIF
        ax.axis_label_text_font_style = "normal"
        ax.axis_label_text_color = "black"
    p.xaxis[0].major_label_standoff = 3
    p.yaxis[0].major_label_standoff = 5
    p.xaxis[0].axis_label_text_font_size = "28px"
    p.yaxis[0].axis_label_text_font_size = "34px"
    p.xaxis[0].ticker = FixedTicker(ticks=X_TICKS[i])
    p.yaxis[0].ticker = FixedTicker(ticks=Y_TICKS[i])
    p.xaxis[0].axis_label = X_LABELS[i]
    p.yaxis[0].axis_label = Y_LABEL
    p.xaxis[0].axis_label_standoff = 2
    p.yaxis[0].axis_label_standoff = -6

    cb = ColorBar(color_mapper=mapper, ticker=FixedTicker(ticks=CB_TICKS),
                  width=18, padding=0, margin=0, location=(39, 0),
                  major_label_text_font=SERIF, major_label_text_font_size=CB_FONT[i],
                  major_label_text_color="black",
                  major_tick_line_color="black", major_tick_in=0, major_tick_out=4,
                  minor_tick_line_color=None, bar_line_color="black",
                  border_line_color=None, background_fill_color=None,
                  label_standoff=5)
    p.add_layout(cb, "right")

    # narrow companion figure that carries the colour-bar title, reading upwards
    q = figure(frame_width=1, frame_height=344, x_range=Range1d(0, 1), y_range=Range1d(0, 1),
               output_backend="svg", toolbar_location=None,
               min_border_left=33, min_border_right=0, min_border_top=8,
               min_border_bottom=60, outline_line_color=None,
               background_fill_color="white", border_fill_color="white")
    q.axis.visible = False
    q.grid.visible = False
    q.add_layout(Title(text=CB_TITLE, align="center", text_font=SERIF,
                       text_font_size="32px", text_font_style="normal",
                       text_color="black", standoff=0, offset=0), "left")
    rows.append(row(p, q, spacing=0))

layout = column(*rows, spacing=0)
open("out.html", "w").write(file_html(layout, INLINE))
